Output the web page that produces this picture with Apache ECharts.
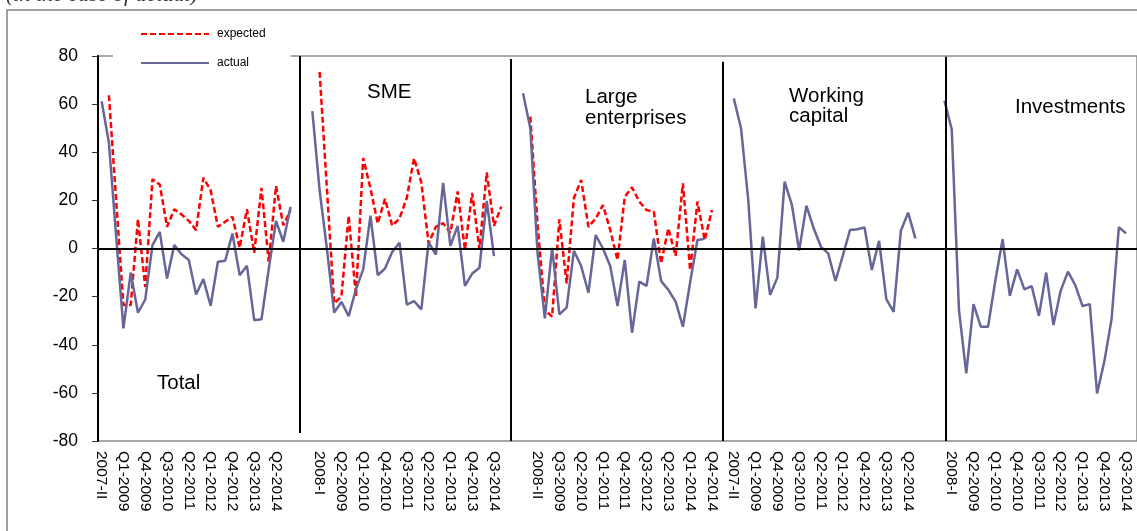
<!DOCTYPE html>
<html>
<head>
<meta charset="utf-8">
<script src="https://cdn.jsdelivr.net/npm/echarts@6/dist/echarts.min.js"></script>
<style>
  html, body { margin: 0; padding: 0; background: #fff; }
  #chart { width: 1137px; height: 531px; }
</style>
</head>
<body>
<div id="chart"></div>
<script>
// one block of periods, repeated for every panel
var periods = ['2007-II', '2008-I', '2008-II',
  'Q1-2009', 'Q2-2009', 'Q3-2009', 'Q4-2009',
  'Q1-2010', 'Q2-2010', 'Q3-2010', 'Q4-2010',
  'Q1-2011', 'Q2-2011', 'Q3-2011', 'Q4-2011',
  'Q1-2012', 'Q2-2012', 'Q3-2012', 'Q4-2012',
  'Q1-2013', 'Q2-2013', 'Q3-2013', 'Q4-2013',
  'Q1-2014', 'Q2-2014', 'Q3-2014', 'Q4-2014'];

var totalActual = [61.2, 44, 5, -33.2, -10, -26.7, -21.2, 1.4, 6.9, -12.5, 1.4, -2.4, -4.8, -19.1,
  -12.7, -23.8, -5.5, -5.1, 6.2, -11.1, -7.2, -29.8, -29.4, -8.5, 11.5, 2.8, 17.3];
var totalExpected = [null, 63.7, 20, -23.5, -23.5, 12.2, -16, 28.8, 26.6, 9, 16.3, 14.1, 11.5, 7.6,
  29.4, 24.2, 9, 11.1, 13.2, 0.3, 16.3, -1.8, 25.2, -5.5, 26, 9.7, 15.9];

var smeActual = [57.1, 24.2, 0, -26.6, -22.2, -28.1, -17, -8.7, 13.6, -11.1, -8.3, -1.4, 2.4, -23.3,
  -21.9, -25.3, 2.5, -2.5, 27.3, 1.1, 9.4, -15.5, -10.4, -8, 19.8, -3.2, null];
var smeExpected = [null, 73.4, 25, -22.8, -20, 13.6, -20, 37.6, 25, 10.4, 20.6, 9.5, 12.5, 21,
  37.5, 27.5, 2.1, 9, 10.5, 6.5, 23.7, -0.5, 23.1, -0.3, 31.6, 9.4, 17.4];

var largeActual = [64.5, 50, -2, -29, 0.3, -27.4, -24.6, -1, -7.3, -18.4, 5.6, 0, -7.3, -23.9,
  -4.8, -35, -13.8, -15.5, 4.2, -13.5, -17.2, -22.1, -32.5, -14, 3.5, 4, null];
var largeExpected = [null, 54.8, 10, -25.6, -28.3, 12.1, -14.5, 21, 28.5, 9, 12.5, 18, 7.7, -4.8,
  21.5, 25.4, 19.5, 16, 15.3, -6.2, 8.4, -3.1, 27.1, -9, 19.5, 3.5, 16];

var workingActual = [62.4, 50, 20, -24.9, 4.9, -19.3, -12.1, 27.8, 18.1, -0.9, 17.8, 8.4, 0.7, -2,
  -13.5, -3.1, 7.7, 8, 8.7, -8.9, 3.2, -21, -26.3, 7.4, 14.9, 4.2, null];

var investActual = [61.4, 49.5, -25.6, -51.9, -23.1, -32.5, -32.5, -13.4, 3.9, -19.7, -8.7, -17,
  -15.6, -28, -10, -31.8, -17.5, -9.6, -15.2, -23.9, -23.1, -60.2, -47, -29.4, 8.8, 6.3, null];

var panels = [
  { actual: totalActual, expected: totalExpected },
  { actual: smeActual, expected: smeExpected },
  { actual: largeActual, expected: largeExpected },
  { actual: workingActual, expected: null },
  { actual: investActual, expected: null }
];

// glue the panels onto one category axis, two empty slots between them
var categories = [], actualData = [], expectedData = [];
panels.forEach(function (p, k) {
  if (k > 0) {
    for (var b = 0; b < 2; b++) {
      categories.push(' '.repeat(2 * k - 1 + b));
      actualData.push(null);
      expectedData.push(null);
    }
  }
  categories = categories.concat(periods);
  actualData = actualData.concat(p.actual);
  expectedData = expectedData.concat(p.expected || periods.map(function () { return null; }));
});

var font = '"Liberation Sans", Arial, sans-serif';

// panel separators, in slot units on a hidden value axis
var separators = [[27.72, 80, -76.7], [56.74, 78.8, -80], [86.04, 77.6, -80], [116.7, 79.7, -80]];

var chart = echarts.init(document.getElementById('chart'));
chart.setOption({
  animation: false,
  backgroundColor: '#fff',
  textStyle: { fontFamily: font },
  grid: {
    left: 98, top: 56, width: 1040, height: 385,
    show: true, borderColor: '#8a8a8a', borderWidth: 1.5
  },
  legend: {
    data: ['expected', 'actual'],
    orient: 'vertical',
    left: 113, top: 16,
    padding: [12, 25, 12, 27],
    itemWidth: 68, itemHeight: 14, itemGap: 17,
    itemStyle: { opacity: 0 },
    backgroundColor: '#fff',
    textStyle: { fontSize: 12, color: '#000', padding: [0, 0, 0, 3] },
    z: 10
  },
  xAxis: [{
    type: 'category',
    data: categories,
    boundaryGap: true,
    axisLine: { show: false },
    axisTick: { show: false },
    splitLine: { show: false },
    axisLabel: { interval: 2, rotate: -90, fontSize: 15.5, color: '#000', margin: 10 }
  }, {
    type: 'value', min: 0, max: categories.length, show: false
  }],
  yAxis: {
    type: 'value', min: -80, max: 80, interval: 20,
    axisLine: { show: true, lineStyle: { color: '#000', width: 2 } },
    axisTick: { show: true, length: 6, lineStyle: { color: '#333', width: 1 } },
    splitLine: { show: false },
    axisLabel: { fontSize: 17.5, color: '#000', margin: 20 }
  },
  series: [{
    name: 'expected',
    type: 'line',
    data: expectedData,
    symbol: 'none',
    connectNulls: false,
    lineStyle: { color: '#ff0000', width: 2.5, type: [6, 3] },
    itemStyle: { color: '#ff0000' }
  }, {
    name: 'actual',
    type: 'line',
    data: actualData,
    symbol: 'none',
    connectNulls: false,
    lineStyle: { color: '#666699', width: 2.5 },
    itemStyle: { color: '#666699' },
    z: 3,
    markLine: {
      silent: true, symbol: ['none', 'none'], label: { show: false },
      lineStyle: { color: '#000', width: 2, type: 'solid' },
      data: [{ yAxis: 0 }]
    }
  }, {
    name: 'sep',
    type: 'line',
    xAxisIndex: 1,
    data: [],
    symbol: 'none',
    markLine: {
      silent: true, symbol: ['none', 'none'], label: { show: false },
      lineStyle: { color: '#000', width: 2, type: 'solid' },
      data: separators.map(function (s) {
        return [{ coord: [s[0], s[1]] }, { coord: [s[0], s[2]] }];
      })
    }
  }],
  graphic: [
    { type: 'rect', shape: { x: 7, y: 10, width: 1300, height: 700 },
      style: { fill: 'none', stroke: '#808080', lineWidth: 1.5 }, z: -1, silent: true },
    { type: 'text', left: 6, top: -16,
      style: { text: '(in the case of actual)', font: 'italic 22px "Liberation Serif", serif', fill: '#333' } },
    { type: 'text', x: 157, y: 383,
      style: { text: 'Total', font: '20.5px ' + font, fill: '#000', verticalAlign: 'middle' } },
    { type: 'text', x: 367, y: 92,
      style: { text: 'SME', font: '20.5px ' + font, fill: '#000', verticalAlign: 'middle' } },
    { type: 'text', x: 585, y: 87,
      style: { text: 'Large\nenterprises', font: '20.5px ' + font, lineHeight: 21, fill: '#000', verticalAlign: 'top' } },
    { type: 'text', x: 789, y: 86,
      style: { text: 'Working\ncapital', font: '20.5px ' + font, lineHeight: 20, fill: '#000', verticalAlign: 'top' } },
    { type: 'text', x: 1015, y: 107,
      style: { text: 'Investments', font: '20.5px ' + font, fill: '#000', verticalAlign: 'middle' } }
  ]
});
</script>
</body>
</html>
